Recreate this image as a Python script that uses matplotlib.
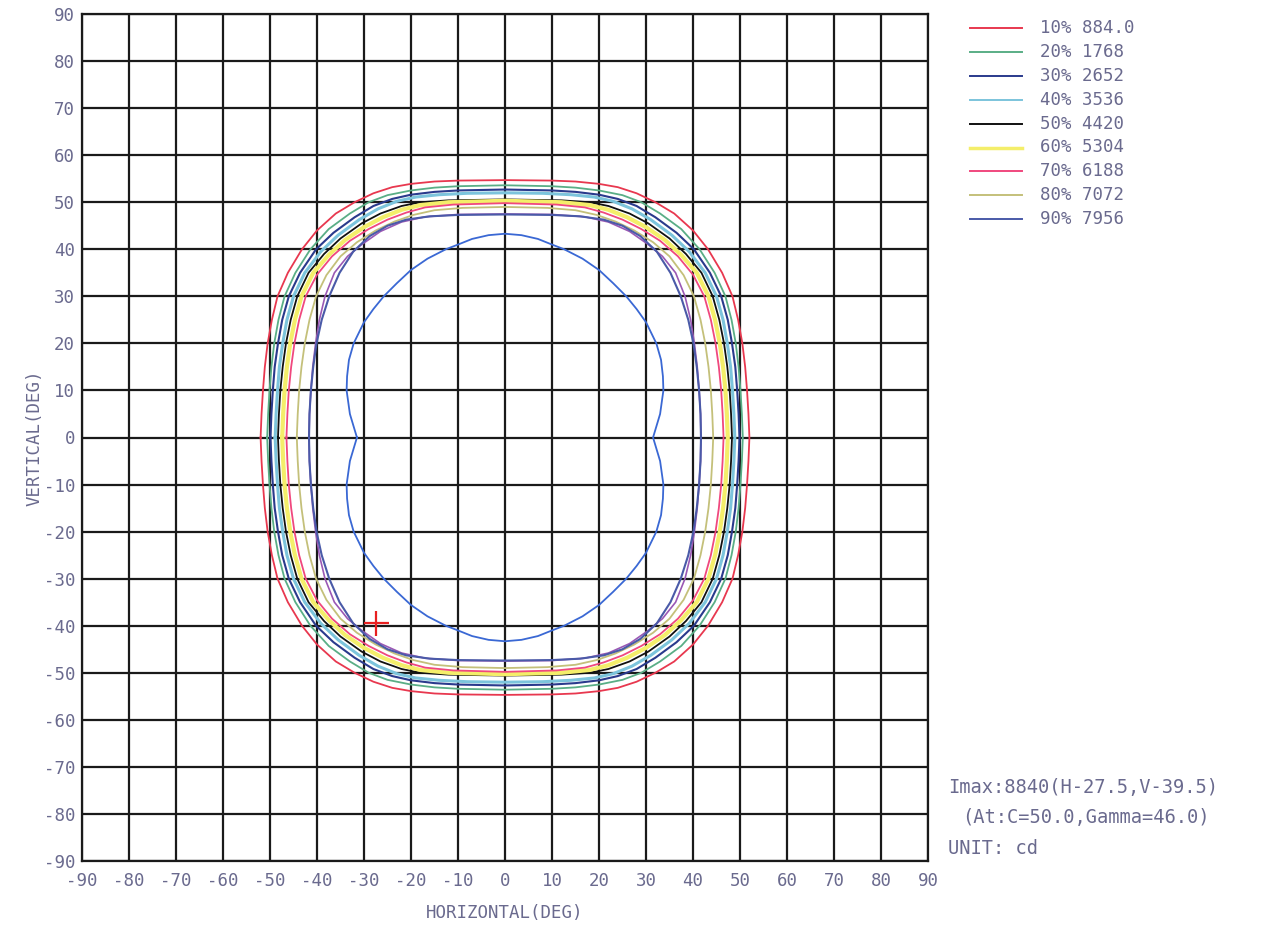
import numpy as np
import matplotlib
matplotlib.use('Agg')
import matplotlib.pyplot as plt
from matplotlib.lines import Line2D

plt.rcParams['font.family'] = ['DejaVu Sans Mono']
plt.rcParams['axes.unicode_minus'] = False

# 등광도 곡선: 좌상 사분면 (수평각, 수직각) - 나머지는 대칭으로 복사
h_10 = [-52.0, -51.8, -51.5, -51.1, -50.5, -49.6, -48.4, -46.2, -43.2, -40.0, -36.0, -32.0, -28.0, -24.0, -20.0, -15.0, -10.0, 0.0]
v_10 = [0.0, 5.0, 10.0, 15.0, 20.0, 25.0, 30.0, 35.0, 40.0, 44.0, 47.6, 50.0, 51.9, 53.2, 53.9, 54.4, 54.6, 54.7]
h_20 = [-50.6, -50.4, -50.1, -49.7, -49.1, -48.2, -46.9, -44.6, -41.4, -37.5, -33.0, -29.0, -25.0, -20.0, -15.0, -10.0, 0.0]
v_20 = [0.0, 5.0, 10.0, 15.0, 20.0, 25.0, 30.0, 35.0, 40.0, 44.3, 47.6, 50.0, 51.5, 52.5, 53.1, 53.4, 53.6]
h_30 = [-49.9, -49.7, -49.4, -49.0, -48.3, -47.4, -46.0, -43.6, -40.2, -36.5, -32.0, -28.0, -24.0, -20.0, -15.0, -10.0, 0.0]
v_30 = [0.0, 5.0, 10.0, 15.0, 20.0, 25.0, 30.0, 35.0, 40.0, 43.5, 46.8, 49.2, 50.7, 51.6, 52.2, 52.5, 52.7]
h_40 = [-48.9, -48.7, -48.4, -48.0, -47.3, -46.4, -45.0, -42.6, -39.2, -35.5, -31.0, -27.0, -23.0, -19.0, -14.0, -8.0, 0.0]
v_40 = [0.0, 5.0, 10.0, 15.0, 20.0, 25.0, 30.0, 35.0, 39.5, 43.0, 46.3, 48.6, 50.2, 51.1, 51.6, 51.9, 52.0]
h_50 = [-48.3, -48.1, -47.8, -47.3, -46.6, -45.6, -44.2, -41.8, -38.5, -35.0, -30.5, -26.5, -22.0, -18.0, -12.0, 0.0]
v_50 = [0.0, 5.0, 10.0, 15.0, 20.0, 25.0, 30.0, 35.0, 39.0, 42.3, 45.5, 47.6, 49.2, 50.0, 50.4, 50.6]
h_60 = [-47.4, -47.2, -46.9, -46.4, -45.7, -44.7, -43.3, -40.8, -37.5, -34.0, -30.0, -26.0, -22.0, -18.0, -12.0, 0.0]
v_60 = [0.0, 5.0, 10.0, 15.0, 20.0, 25.0, 30.0, 35.0, 38.8, 42.0, 44.7, 46.8, 48.4, 49.4, 50.0, 50.3]
h_70 = [-46.5, -46.3, -46.0, -45.5, -44.8, -43.8, -42.4, -40.0, -36.8, -33.0, -29.0, -25.0, -21.0, -17.0, -11.0, 0.0]
v_70 = [0.0, 5.0, 10.0, 15.0, 20.0, 25.0, 30.0, 34.6, 38.5, 41.8, 44.3, 46.3, 47.8, 48.9, 49.5, 49.8]
h_80 = [-44.3, -44.1, -43.8, -43.3, -42.6, -41.6, -40.2, -38.0, -35.0, -31.5, -27.5, -23.5, -19.5, -15.0, -9.0, 0.0]
v_80 = [0.0, 5.0, 10.0, 15.0, 20.0, 25.0, 30.0, 34.5, 38.5, 41.5, 44.0, 45.9, 47.3, 48.3, 48.8, 49.0]
h_pu = [-41.7, -41.6, -41.3, -40.9, -40.3, -39.5, -38.3, -36.3, -33.5, -30.5, -26.5, -22.0, -17.0, -10.0, 0.0]
v_pu = [0.0, 5.0, 10.0, 15.0, 20.0, 25.0, 30.0, 35.0, 38.5, 41.0, 43.8, 45.8, 46.9, 47.4, 47.5]
h_90 = [-41.7, -41.6, -41.3, -40.8, -40.1, -39.0, -37.4, -35.2, -32.3, -28.8, -25.0, -21.0, -16.0, -10.0, 0.0]
v_90 = [0.0, 5.0, 10.0, 15.0, 20.0, 25.0, 30.0, 35.0, 39.5, 42.8, 45.0, 46.3, 47.0, 47.3, 47.4]
h_in = [-31.5, -33.0, -33.7, -33.6, -33.2, -32.2, -30.0, -28.0, -25.8, -23.0, -20.0, -16.5, -12.6, -10.0, -7.0, -3.5, 0.0]
v_in = [0.0, 5.0, 10.0, 13.0, 16.5, 20.0, 24.5, 27.3, 30.0, 32.8, 35.6, 38.0, 40.0, 41.0, 42.2, 43.0, 43.3]

pct = ['10%', '20%', '30%', '40%', '50%', '60%', '70%', '80%', '90%']
cd = ['884.0', '1768', '2652', '3536', '4420', '5304', '6188', '7072', '7956']
imax_h, imax_v = -27.5, -39.5

ticks = list(range(-90, 91, 10))

def loop(h, v):
    h = np.array(h)
    v = np.array(v)
    hx = np.concatenate([h, -h[::-1], -h, h[::-1]])
    vy = np.concatenate([v, v[::-1], -v, -v[::-1]])
    return hx, vy

curves = [(h_10, v_10, '#e8384f', 1.3),
          (h_20, v_20, '#5aae86', 1.3),
          (h_30, v_30, '#2a3a8c', 1.5),
          (h_40, v_40, '#7cc4dc', 2.2),
          (h_50, v_50, '#111111', 1.3),
          (h_60, v_60, '#f4ee6a', 3.0),
          (h_70, v_70, '#f0487e', 1.3),
          (h_80, v_80, '#c4c07a', 1.3),
          (h_pu, v_pu, '#9a58b4', 1.2),
          (h_90, v_90, '#4a5aa8', 1.5),
          (h_in, v_in, '#3a68d4', 1.3)]
leg_colors = ['#e8384f', '#5aae86', '#2a3a8c', '#7cc4dc', '#111111',
              '#f4ee6a', '#f0487e', '#c4c07a', '#4a5aa8']

txt = '#6a6a8e'
fig = plt.figure(figsize=(12.69, 9.31), dpi=100)
ax = fig.add_axes([82/1269, 1-861/931, 846/1269, 847/931])
ax.set_xlim(-90, 90)
ax.set_ylim(-90, 90)
ax.set_xticks(ticks)
ax.set_yticks(ticks)
ax.tick_params(length=0, labelsize=12.5, labelcolor=txt)
ax.tick_params(axis='x', pad=8)
ax.tick_params(axis='y', pad=5)
ax.grid(True, color='#1a1a1a', lw=1.6)
for s in ax.spines.values():
    s.set_color('#1a1a1a')
    s.set_linewidth(1.6)
ax.set_axisbelow(True)

for h, v, c, lw in curves:
    hx, vy = loop(h, v)
    ax.plot(hx, vy, color=c, lw=lw, zorder=3)

ax.plot(imax_h, imax_v, marker='+', color='#e82020', ms=18, mew=1.6, zorder=5)

ax.set_xlabel('HORIZONTAL(DEG)', fontsize=12.5, color=txt, labelpad=10)
ax.set_ylabel('VERTICAL(DEG)', fontsize=12.5, color=txt, labelpad=0)

# 범례
for i in range(len(pct)):
    y = 1 - (28 + i*23.9)/931
    fig.add_artist(Line2D([970/1269, 1022/1269], [y, y], color=leg_colors[i],
                          lw=1.4 if i != 5 else 2.5, transform=fig.transFigure))
    fig.text(1040/1269, y, pct[i] + ' ' + cd[i], fontsize=12.5, color=txt, va='center')

fig.text(948/1269, 1-788/931, 'Imax:8840(H-27.5,V-39.5)', fontsize=13.5, color=txt, va='center')
fig.text(962/1269, 1-817/931, '(At:C=50.0,Gamma=46.0)', fontsize=13.5, color=txt, va='center')
fig.text(948/1269, 1-849/931, 'UNIT: cd', fontsize=13.5, color=txt, va='center')

fig.savefig('out.png', dpi=100)
